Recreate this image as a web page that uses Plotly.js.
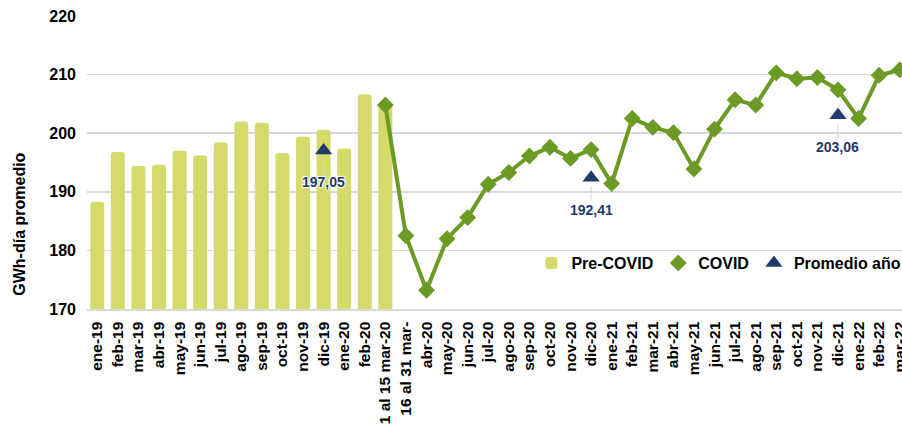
<!DOCTYPE html>
<html>
<head>
<meta charset="utf-8">
<script src="https://cdn.plot.ly/plotly-3.0.1.min.js"></script>
<style>
html, body { margin: 0; padding: 0; background: #ffffff; overflow: hidden; }
#chart { width: 912px; height: 429px; }
</style>
</head>
<body>
<div id="chart"></div>
<script>
const categories = [
  'ene-19','feb-19','mar-19','abr-19','may-19','jun-19','jul-19','ago-19','sep-19','oct-19','nov-19','dic-19',
  'ene-20','feb-20','1 al 15 mar-20','16 al 31 mar-','abr-20','may-20','jun-20','jul-20','ago-20','sep-20','oct-20','nov-20','dic-20',
  'ene-21','feb-21','mar-21','abr-21','may-21','jun-21','jul-21','ago-21','sep-21','oct-21','nov-21','dic-21',
  'ene-22','feb-22','mar-22'
];

const preCovidCats = categories.slice(0, 15);
const preCovidValues = [188.3, 196.8, 194.4, 194.6, 197.0, 196.2, 198.4, 202.0, 201.8, 196.6, 199.4, 200.6, 197.4, 206.6, 204.8];

const covidCats = categories.slice(14);
const covidValues = [204.8, 182.5, 173.2, 182.0, 185.6, 191.3, 193.3, 196.1, 197.6, 195.7, 197.2,
  191.4, 202.5, 201.0, 200.1, 193.9, 200.7, 205.7, 204.8, 210.3, 209.3, 209.5, 207.4,
  202.5, 209.9, 210.8];

const promedioCats = ['dic-19', 'dic-20', 'dic-21'];
const promedioValues = [197.05, 192.41, 203.06];

const yTicks = [170, 180, 190, 200, 210, 220];
const yTitle = 'GWh-día promedio';

const FONT = 'Liberation Sans, Arial, sans-serif';
const barColor = '#d5db6b';
const lineColor = '#6b9a25';
const navy = '#1f3a6b';
const halo = '1px 1px 1px #fff, -1px -1px 1px #fff, 1px -1px 1px #fff, -1px 1px 1px #fff';

const traces = [
  {
    type: 'bar', name: 'Pre-COVID', x: preCovidCats, y: preCovidValues,
    marker: { color: barColor, cornerradius: 3 }, hoverinfo: 'x+y'
  },
  {
    type: 'scatter', mode: 'lines', name: 'COVID', x: covidCats, y: covidValues,
    line: { color: lineColor, width: 4 }, showlegend: false, hoverinfo: 'skip'
  },
  {
    type: 'scatter', mode: 'markers', name: 'COVID', x: covidCats, y: covidValues,
    marker: { symbol: 'diamond', size: 13, color: lineColor }
  },
  {
    type: 'scatter', mode: 'markers', name: 'Promedio año', x: promedioCats, y: promedioValues,
    marker: { symbol: 'triangle-up', size: 15, color: navy }
  }
];

const annotations = promedioCats.map((c, i) => ({
  x: c, y: promedioValues[i], xref: 'x', yref: 'y',
  text: promedioValues[i].toFixed(2).replace('.', ','),
  showarrow: true, arrowhead: 0, arrowwidth: 1, arrowcolor: '#d6d6d6',
  ax: 0, ay: 32, standoff: 9, startstandoff: 0,
  font: { family: FONT, size: 14, color: navy, weight: 'bold', shadow: halo }
}));

annotations.push({
  xref: 'paper', yref: 'paper', x: -0.083, y: 0.29, xanchor: 'center', yanchor: 'middle',
  text: yTitle, textangle: -90, showarrow: false,
  font: { family: FONT, size: 16, color: '#000000', weight: 'bold' }
});

const layout = {
  width: 912, height: 429,
  margin: { l: 87, r: 2, t: 16, b: 120 },
  paper_bgcolor: '#ffffff', plot_bgcolor: '#ffffff',
  showlegend: true,
  barmode: 'overlay', bargap: 0.32,
  font: { family: FONT, size: 16, color: '#000000', weight: 'bold' },
  xaxis: {
    type: 'category', categoryorder: 'array', categoryarray: categories,
    range: [-0.5, categories.length - 0.5],
    tickangle: -90, showgrid: false, zeroline: false,
    showline: true, linecolor: '#d9d9d9', linewidth: 1.5,
    ticks: '', ticklabelstandoff: 5,
    tickfont: { family: FONT, size: 15.5, color: '#000000', weight: 'bold' }
  },
  yaxis: {
    range: [170, 220], tickvals: yTicks, ticktext: yTicks.map(String),
    showgrid: true, gridcolor: '#d9d9d9', gridwidth: 1.5,
    zeroline: false, showline: false, ticks: '', ticklabelstandoff: 10,
    tickfont: { family: FONT, size: 16, color: '#000000', weight: 'bold' }
  },
  legend: {
    orientation: 'h', x: 0.54, xanchor: 'left', y: 0.157, yanchor: 'middle',
    bgcolor: 'rgba(0,0,0,0)', font: { family: FONT, size: 16, color: '#000000', weight: 'bold' },
    traceorder: 'normal', itemclick: false
  },
  annotations: annotations
};

Plotly.newPlot('chart', traces, layout, { displayModeBar: false, staticPlot: true });
</script>
</body>
</html>
